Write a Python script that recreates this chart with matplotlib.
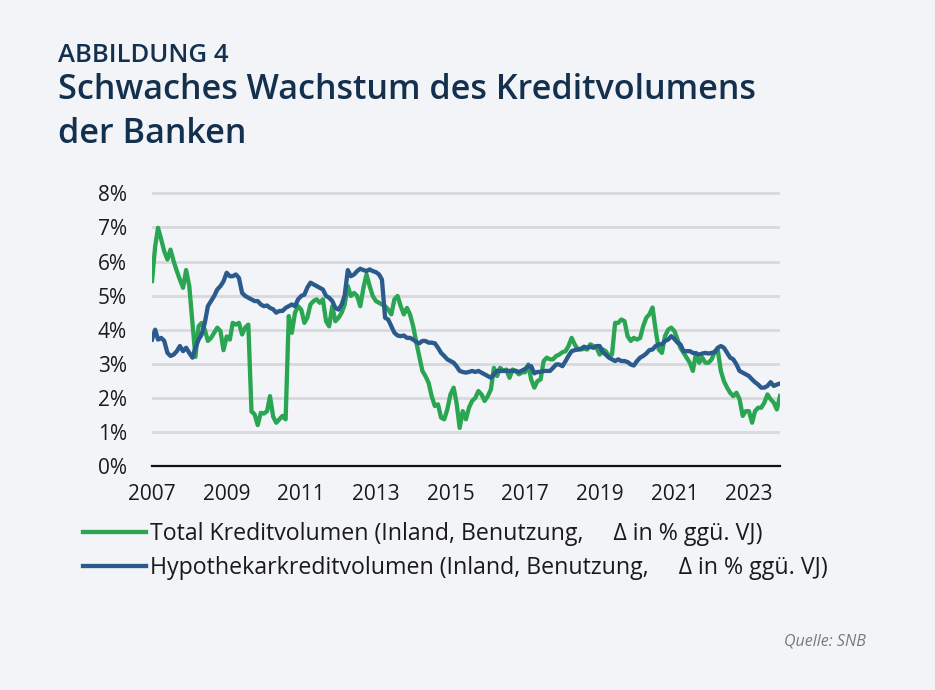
import pandas as pd
import numpy as np
import matplotlib
matplotlib.use('Agg')
import matplotlib.pyplot as plt
import matplotlib.dates as mdates
from matplotlib.ticker import FuncFormatter

# monthly data, Jan 2007 - Nov 2023
dates = pd.date_range('2007-01-01', periods=203, freq='MS')

total_kredit = [
    5.43, 6.45, 6.99, 6.65, 6.30, 6.06, 6.35, 6.01, 5.72, 5.47, 5.23, 5.75,  # 2007
    5.28, 4.20, 3.20, 4.10, 4.20, 4.00, 3.67, 3.76, 3.91, 4.06, 3.96, 3.40,  # 2008
    3.80, 3.71, 4.20, 4.15, 4.20, 3.86, 4.06, 4.15, 1.60, 1.52, 1.20, 1.56,  # 2009
    1.54, 1.61, 2.05, 1.45, 1.27, 1.37, 1.47, 1.37, 4.40, 3.91, 4.50, 4.69,  # 2010
    4.59, 4.20, 4.35, 4.74, 4.84, 4.89, 4.79, 4.89, 4.25, 4.10, 4.69, 4.25,  # 2011
    4.35, 4.50, 4.74, 5.28, 4.99, 5.08, 4.99, 4.69, 5.23, 5.62, 5.28, 4.99,  # 2012
    4.84, 4.79, 4.74, 4.69, 4.59, 4.45, 4.89, 4.99, 4.69, 4.45, 4.64, 4.45,  # 2013
    4.10, 3.62, 3.23, 2.79, 2.64, 2.44, 2.05, 1.76, 1.81, 1.42, 1.37, 1.66,  # 2014
    2.10, 2.30, 1.86, 1.12, 1.61, 1.37, 1.71, 1.91, 2.00, 2.20, 2.10, 1.91,  # 2015
    2.05, 2.25, 2.88, 2.64, 2.88, 2.79, 2.83, 2.59, 2.83, 2.79, 2.69, 2.75,  # 2016
    2.75, 2.98, 2.54, 2.30, 2.49, 2.54, 3.08, 3.18, 3.13, 3.13, 3.23, 3.27,  # 2017
    3.34, 3.37, 3.52, 3.76, 3.57, 3.42, 3.42, 3.44, 3.42, 3.57, 3.52, 3.47,  # 2018
    3.27, 3.42, 3.37, 3.23, 3.27, 4.20, 4.20, 4.30, 4.25, 3.81, 3.67, 3.76,  # 2019
    3.71, 3.76, 4.10, 4.35, 4.45, 4.65, 4.00, 3.42, 3.32, 3.81, 4.00, 4.06,  # 2020
    3.96, 3.71, 3.47, 3.32, 3.18, 3.03, 2.79, 3.32, 3.03, 3.18, 3.03, 3.03,  # 2021
    3.13, 3.37, 3.42, 2.79, 2.49, 2.30, 2.15, 2.05, 2.15, 1.96, 1.47, 1.61,  # 2022
    1.61, 1.27, 1.61, 1.71, 1.71, 1.86, 2.10, 1.96, 1.86, 1.66, 2.05,        # 2023
]

hypothek = [
    3.71, 4.00, 3.71, 3.76, 3.67, 3.32, 3.23, 3.27, 3.37, 3.52, 3.37, 3.47,  # 2007
    3.32, 3.18, 3.47, 3.71, 3.86, 4.20, 4.69, 4.84, 4.99, 5.18, 5.28, 5.42,  # 2008
    5.67, 5.57, 5.57, 5.62, 5.52, 5.08, 4.99, 4.94, 4.89, 4.84, 4.84, 4.74,  # 2009
    4.69, 4.71, 4.64, 4.60, 4.50, 4.55, 4.55, 4.64, 4.69, 4.74, 4.69, 4.89,  # 2010
    4.99, 5.03, 5.23, 5.38, 5.33, 5.28, 5.23, 5.18, 4.99, 4.94, 4.84, 4.64,  # 2011
    4.59, 4.74, 5.00, 5.75, 5.57, 5.62, 5.72, 5.79, 5.75, 5.72, 5.77, 5.72,  # 2012
    5.69, 5.62, 5.47, 4.35, 4.30, 4.10, 3.91, 3.83, 3.81, 3.83, 3.76, 3.76,  # 2013
    3.71, 3.64, 3.60, 3.67, 3.67, 3.62, 3.62, 3.60, 3.47, 3.32, 3.23, 3.13,  # 2014
    3.08, 3.03, 2.93, 2.79, 2.76, 2.74, 2.76, 2.79, 2.76, 2.79, 2.74, 2.69,  # 2015
    2.64, 2.59, 2.69, 2.79, 2.79, 2.79, 2.79, 2.79, 2.79, 2.79, 2.76, 2.80,  # 2016
    2.85, 2.93, 2.93, 2.72, 2.76, 2.76, 2.79, 2.79, 2.79, 2.88, 2.98, 2.98,  # 2017
    2.93, 3.08, 3.23, 3.37, 3.40, 3.42, 3.44, 3.50, 3.47, 3.50, 3.47, 3.52,  # 2018
    3.52, 3.34, 3.27, 3.18, 3.13, 3.08, 3.13, 3.08, 3.08, 3.05, 2.98, 2.95,  # 2019
    3.08, 3.18, 3.23, 3.30, 3.40, 3.42, 3.52, 3.57, 3.57, 3.67, 3.71, 3.81,  # 2020
    3.73, 3.62, 3.57, 3.37, 3.37, 3.37, 3.32, 3.30, 3.27, 3.30, 3.32, 3.30,  # 2021
    3.32, 3.34, 3.47, 3.52, 3.47, 3.32, 3.18, 3.13, 2.98, 2.79, 2.74, 2.69,  # 2022
    2.64, 2.54, 2.46, 2.39, 2.30, 2.30, 2.35, 2.46, 2.35, 2.39, 2.42,        # 2023
]

label_total = 'Total Kreditvolumen (Inland, Benutzung,     \u0394 in % gg\u00fc. VJ)'
label_hypo = 'Hypothekarkreditvolumen (Inland, Benutzung,     \u0394 in % gg\u00fc. VJ)'
tick_years = list(range(2007, 2024, 2))
y_ticks = [0, 1, 2, 3, 4, 5, 6, 7, 8]

bg = '#f2f4f7'
navy = '#14304f'
green = '#2aa552'
blue = '#2a5b8c'
title_font = ['Open Sans', 'DejaVu Sans']

plt.rcParams['font.family'] = ['Open Sans', 'DejaVu Sans']

fig = plt.figure(figsize=(9.35, 6.9), dpi=100, facecolor=bg)
ax = fig.add_axes([152 / 935, 224 / 690, 628 / 935, 276 / 690])
ax.set_facecolor(bg)

ax.plot(dates, total_kredit, color=green, lw=3.1, label=label_total,
        solid_joinstyle='round', zorder=3)
ax.plot(dates, hypothek, color=blue, lw=3.1, label=label_hypo,
        solid_joinstyle='round', zorder=4)

ax.set_xlim(dates[0], dates[-1])
ax.set_ylim(0, 8.1)
ax.set_yticks(y_ticks)
ax.yaxis.set_major_formatter(FuncFormatter(lambda v, p: f'{v:.0f}%'))
ax.set_xticks([pd.Timestamp(f'{y}-01-01') for y in tick_years])
ax.xaxis.set_major_formatter(mdates.DateFormatter('%Y'))
ax.tick_params(length=0, labelsize=15, colors='#1a1a1a')
ax.tick_params(axis='y', pad=18)
ax.tick_params(axis='x', pad=13)

for v in y_ticks[1:]:
    ax.axhline(v, color='#d8d9dc', lw=2, zorder=1)
for s in ['top', 'right', 'left']:
    ax.spines[s].set_visible(False)
ax.spines['bottom'].set_color('#111111')
ax.spines['bottom'].set_linewidth(1.6)
ax.spines['bottom'].set_zorder(5)

leg = ax.legend(loc='upper left', bbox_to_anchor=(83 / 935, 1 - 522 / 690),
                bbox_transform=fig.transFigure, frameon=False,
                fontsize=16.7, handlelength=2.7, handletextpad=0.2,
                labelspacing=0.42, borderaxespad=0, borderpad=0)
for t in leg.get_texts():
    t.set_color('#1a1a1a')

fig.text(58 / 935, 1 - 62 / 690, 'ABBILDUNG 4', color=navy, fontsize=18.5,
         fontweight='semibold', family=title_font, ha='left', va='baseline')
fig.text(58 / 935, 1 - 99 / 690, 'Schwaches Wachstum des Kreditvolumens',
         color=navy, fontsize=24.6, fontweight='semibold', family=title_font,
         ha='left', va='baseline')
fig.text(58 / 935, 1 - 143 / 690, 'der Banken',
         color=navy, fontsize=24.6, fontweight='semibold', family=title_font,
         ha='left', va='baseline')
fig.text(866 / 935, 1 - 645 / 690, 'Quelle: SNB', color='#7a7a7a',
         fontsize=11.5, style='italic', ha='right', va='baseline')

fig.savefig('out.png', dpi=100, facecolor=bg)
